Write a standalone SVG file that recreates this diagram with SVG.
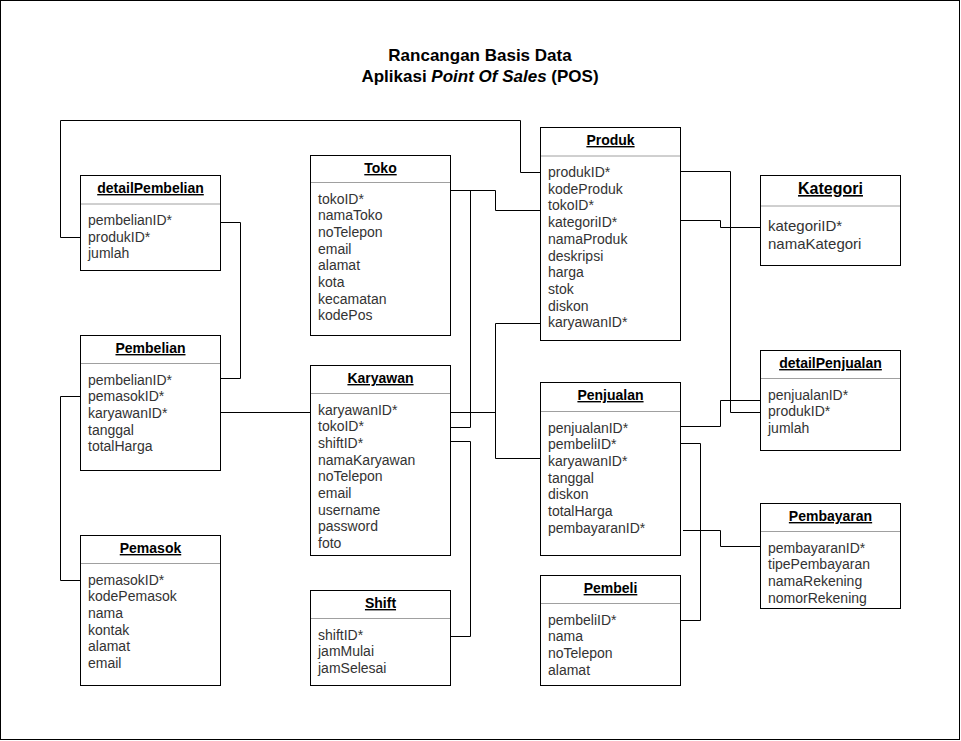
<svg xmlns="http://www.w3.org/2000/svg" width="961" height="741" viewBox="0 0 961 741">
<style>
.box{fill:#fff;stroke:#000;stroke-width:1}
.sep{stroke:#a0a0a0;stroke-width:1}
.ttl{font-family:"Liberation Sans",Arial,sans-serif;font-size:14px;font-weight:bold;fill:#000;text-anchor:middle;text-decoration:underline}
.fld{font-family:"Liberation Sans",Arial,sans-serif;font-size:14px;fill:#333}
.big .ttl{font-size:16px}
.big .fld{font-size:15px}
.head{font-family:"Liberation Sans",Arial,sans-serif;font-size:17px;font-weight:bold;fill:#000;text-anchor:middle}
#connectors path{fill:none;stroke:#000;stroke-width:1}
</style>
<rect x="0.5" y="0.5" width="959" height="739" fill="#fff" stroke="#000" stroke-width="1"/>
<g id="title">
<text class="head" x="480" y="61">Rancangan Basis Data</text>
<text class="head" x="480" y="82">Aplikasi <tspan font-style="italic">Point Of Sales</tspan> (POS)</text>
</g>
<g id="connectors">
<path d="M80,237.5 H60.5 V120.5 H520.5 V172.5 H540"/>
<path d="M220,222.5 H240.5 V378.5 H220"/>
<path d="M80,396.5 H60.5 V580.5 H80"/>
<path d="M220,412.5 H310"/>
<path d="M450,190.5 H495.5 V210.5 H540"/>
<path d="M470.5,190.5 V427.5 H450"/>
<path d="M450,412.5 H495.5"/>
<path d="M540,323.5 H495.5 V458.5 H540"/>
<path d="M450,441.5 H470.5 V636.5 H450"/>
<path d="M680,171.5 H730.5 V412.5 H760"/>
<path d="M680,220.5 H720.5 V227.5 H760"/>
<path d="M680,426.5 H720.5 V400.5 H760"/>
<path d="M680,443.5 H700.5 V620.5 H680"/>
<path d="M683,530.5 H720.5 V546.5 H760"/>
</g>
<g id="detailPembelian">
<rect class="box" x="80.5" y="175.5" width="140" height="95"/>
<line class="sep" x1="81" y1="204" x2="220" y2="204"/>
<text class="ttl" x="150.5" y="193">detailPembelian</text>
<text class="fld" x="88" y="225">pembelianID*</text>
<text class="fld" x="88" y="241.7">produkID*</text>
<text class="fld" x="88" y="258.4">jumlah</text>
</g>
<g id="Pembelian">
<rect class="box" x="80.5" y="335.5" width="140" height="135"/>
<line class="sep" x1="81" y1="363.5" x2="220" y2="363.5"/>
<text class="ttl" x="150.5" y="353">Pembelian</text>
<text class="fld" x="88" y="384.5">pembelianID*</text>
<text class="fld" x="88" y="401.2">pemasokID*</text>
<text class="fld" x="88" y="417.9">karyawanID*</text>
<text class="fld" x="88" y="434.6">tanggal</text>
<text class="fld" x="88" y="451.3">totalHarga</text>
</g>
<g id="Pemasok">
<rect class="box" x="80.5" y="535.5" width="140" height="150"/>
<line class="sep" x1="81" y1="563.5" x2="220" y2="563.5"/>
<text class="ttl" x="150.5" y="553">Pemasok</text>
<text class="fld" x="88" y="584.5">pemasokID*</text>
<text class="fld" x="88" y="601.2">kodePemasok</text>
<text class="fld" x="88" y="617.9">nama</text>
<text class="fld" x="88" y="634.6">kontak</text>
<text class="fld" x="88" y="651.3">alamat</text>
<text class="fld" x="88" y="668">email</text>
</g>
<g id="Toko">
<rect class="box" x="310.5" y="155.5" width="140" height="180"/>
<line class="sep" x1="311" y1="182.5" x2="450" y2="182.5"/>
<text class="ttl" x="380.5" y="173">Toko</text>
<text class="fld" x="318" y="203.5">tokoID*</text>
<text class="fld" x="318" y="220.2">namaToko</text>
<text class="fld" x="318" y="236.9">noTelepon</text>
<text class="fld" x="318" y="253.6">email</text>
<text class="fld" x="318" y="270.3">alamat</text>
<text class="fld" x="318" y="287">kota</text>
<text class="fld" x="318" y="303.7">kecamatan</text>
<text class="fld" x="318" y="320.4">kodePos</text>
</g>
<g id="Karyawan">
<rect class="box" x="310.5" y="365.5" width="140" height="190"/>
<line class="sep" x1="311" y1="393.5" x2="450" y2="393.5"/>
<text class="ttl" x="380.5" y="383">Karyawan</text>
<text class="fld" x="318" y="414.5">karyawanID*</text>
<text class="fld" x="318" y="431.2">tokoID*</text>
<text class="fld" x="318" y="447.9">shiftID*</text>
<text class="fld" x="318" y="464.6">namaKaryawan</text>
<text class="fld" x="318" y="481.3">noTelepon</text>
<text class="fld" x="318" y="498">email</text>
<text class="fld" x="318" y="514.7">username</text>
<text class="fld" x="318" y="531.4">password</text>
<text class="fld" x="318" y="548.1">foto</text>
</g>
<g id="Shift">
<rect class="box" x="310.5" y="590.5" width="140" height="95"/>
<line class="sep" x1="311" y1="618.5" x2="450" y2="618.5"/>
<text class="ttl" x="380.5" y="608">Shift</text>
<text class="fld" x="318" y="639.5">shiftID*</text>
<text class="fld" x="318" y="656.2">jamMulai</text>
<text class="fld" x="318" y="672.9">jamSelesai</text>
</g>
<g id="Produk">
<rect class="box" x="540.5" y="127.5" width="140" height="213"/>
<line class="sep" x1="541" y1="156" x2="680" y2="156"/>
<text class="ttl" x="610.5" y="145">Produk</text>
<text class="fld" x="548" y="177">produkID*</text>
<text class="fld" x="548" y="193.7">kodeProduk</text>
<text class="fld" x="548" y="210.4">tokoID*</text>
<text class="fld" x="548" y="227.1">kategoriID*</text>
<text class="fld" x="548" y="243.8">namaProduk</text>
<text class="fld" x="548" y="260.5">deskripsi</text>
<text class="fld" x="548" y="277.2">harga</text>
<text class="fld" x="548" y="293.9">stok</text>
<text class="fld" x="548" y="310.6">diskon</text>
<text class="fld" x="548" y="327.3">karyawanID*</text>
</g>
<g id="Penjualan">
<rect class="box" x="540.5" y="382.5" width="140" height="173"/>
<line class="sep" x1="541" y1="411.5" x2="680" y2="411.5"/>
<text class="ttl" x="610.5" y="400">Penjualan</text>
<text class="fld" x="548" y="432.5">penjualanID*</text>
<text class="fld" x="548" y="449.2">pembeliID*</text>
<text class="fld" x="548" y="465.9">karyawanID*</text>
<text class="fld" x="548" y="482.6">tanggal</text>
<text class="fld" x="548" y="499.3">diskon</text>
<text class="fld" x="548" y="516">totalHarga</text>
<text class="fld" x="548" y="532.7">pembayaranID*</text>
</g>
<g id="Pembeli">
<rect class="box" x="540.5" y="575.5" width="140" height="110"/>
<line class="sep" x1="541" y1="603.5" x2="680" y2="603.5"/>
<text class="ttl" x="610.5" y="593">Pembeli</text>
<text class="fld" x="548" y="624.5">pembeliID*</text>
<text class="fld" x="548" y="641.2">nama</text>
<text class="fld" x="548" y="657.9">noTelepon</text>
<text class="fld" x="548" y="674.6">alamat</text>
</g>
<g id="Kategori" class="big">
<rect class="box" x="760.5" y="175.5" width="140" height="90"/>
<line class="sep" x1="761" y1="206" x2="900" y2="206"/>
<text class="ttl" x="830.5" y="194">Kategori</text>
<text class="fld" x="768" y="230.5">kategoriID*</text>
<text class="fld" x="768" y="249">namaKategori</text>
</g>
<g id="detailPenjualan">
<rect class="box" x="760.5" y="350.5" width="140" height="100"/>
<line class="sep" x1="761" y1="378.5" x2="900" y2="378.5"/>
<text class="ttl" x="830.5" y="368">detailPenjualan</text>
<text class="fld" x="768" y="399.5">penjualanID*</text>
<text class="fld" x="768" y="416.2">produkID*</text>
<text class="fld" x="768" y="432.9">jumlah</text>
</g>
<g id="Pembayaran">
<rect class="box" x="760.5" y="503.5" width="140" height="105"/>
<line class="sep" x1="761" y1="531.5" x2="900" y2="531.5"/>
<text class="ttl" x="830.5" y="521">Pembayaran</text>
<text class="fld" x="768" y="552.5">pembayaranID*</text>
<text class="fld" x="768" y="569.2">tipePembayaran</text>
<text class="fld" x="768" y="585.9">namaRekening</text>
<text class="fld" x="768" y="602.6">nomorRekening</text>
</g>
</svg>
